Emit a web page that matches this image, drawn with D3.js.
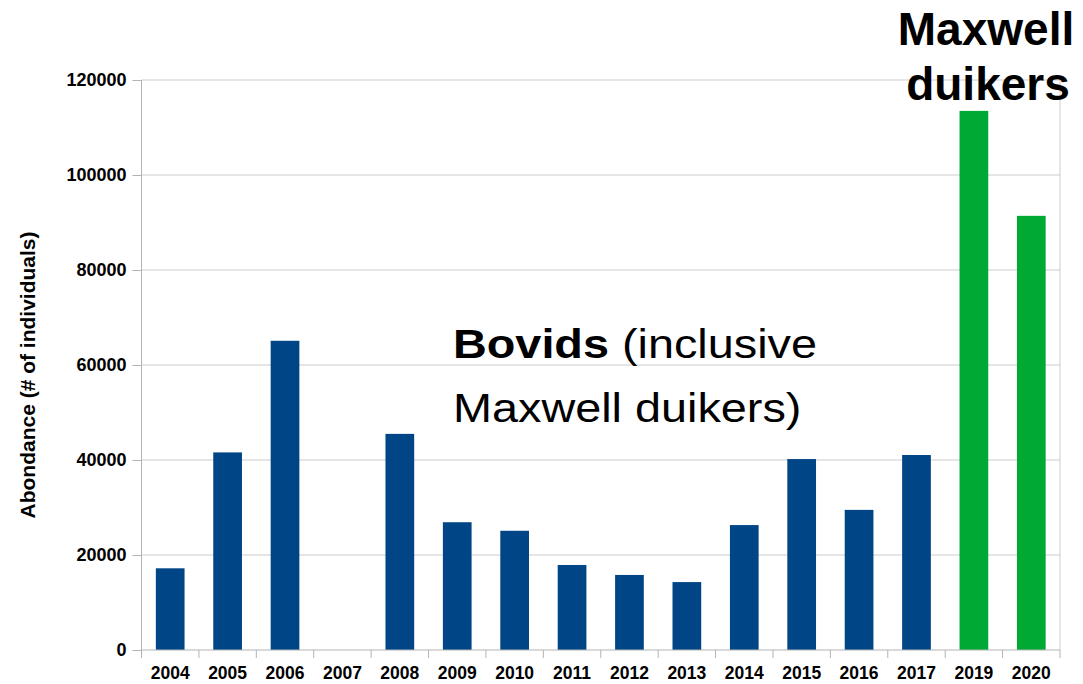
<!DOCTYPE html>
<html><head><meta charset="utf-8">
<script src="https://cdn.jsdelivr.net/npm/d3@7"></script>
<style>
html,body{margin:0;padding:0;background:#fff;}
text{font-family:"Liberation Sans",Arial,sans-serif;}
</style></head>
<body>
<svg id="chart" width="1083" height="684"></svg>
<script>
const years = ["2004","2005","2006","2007","2008","2009","2010","2011","2012","2013","2014","2015","2016","2017","2019","2020"];
const abundance = [17200,41600,65100,null,45500,26900,25100,17900,15800,14300,26300,40200,29500,41050,113500,91400];
const group = ["bovid","bovid","bovid","bovid","bovid","bovid","bovid","bovid","bovid","bovid","bovid","bovid","bovid","bovid","duiker","duiker"];
const yTicks = [0,20000,40000,60000,80000,100000,120000];
const yTitle = "Abondance (# of individuals)";

(function(){
const svg = d3.select("#chart");
const pL = 141.5, pR = 1060, pT = 80, pB = 650;
const x = d3.scaleBand().domain(years).range([pL, pR]).paddingInner(0.5).paddingOuter(0.25);
const y = d3.scaleLinear().domain([0,120000]).range([pB, pT]);
const colors = {bovid:"#004586", duiker:"#00a933"};

// gridlines
svg.append("g").selectAll("line").data(yTicks.filter(d=>d>0)).join("line")
  .attr("x1", pL).attr("x2", pR)
  .attr("y1", d=>y(d)).attr("y2", d=>y(d))
  .attr("stroke", "#cccccc").attr("stroke-width", 1);
// right border
svg.append("line").attr("x1", pR).attr("x2", pR).attr("y1", pT).attr("y2", pB)
  .attr("stroke", "#cccccc");

// bars
const data = years.map((yr,i)=>({yr, v:abundance[i], g:group[i]}));
svg.append("g").selectAll("rect").data(data.filter(d=>d.v!=null)).join("rect")
  .attr("x", d=>x(d.yr)).attr("width", x.bandwidth())
  .attr("y", d=>y(d.v)).attr("height", d=>y(0)-y(d.v))
  .attr("fill", d=>colors[d.g]);

// y axis
const yAxis = d3.axisLeft(y).tickValues(yTicks).tickSize(9).tickPadding(6).tickFormat(d3.format("d"));
const gy = svg.append("g").attr("transform", `translate(${pL},0)`).call(yAxis);
gy.select(".domain").attr("stroke","#b3b3b3").attr("d", `M0,${pT}V${pB}`);
gy.selectAll(".tick line").attr("stroke","#b3b3b3");
gy.selectAll(".tick text").attr("font-family","Liberation Sans, Arial, sans-serif")
  .attr("font-size",18).attr("font-weight","bold").attr("fill","#000");

// x axis with boundary ticks
const gx = svg.append("g").attr("transform", `translate(0,${pB})`);
gx.append("line").attr("x1", pL).attr("x2", pR).attr("y1",0).attr("y2",0).attr("stroke","#b3b3b3");
const step = x.step();
const bounds = years.map(d=>x(d) - step*0.25).concat([pR]);
gx.selectAll("line.tk").data(bounds).join("line").attr("class","tk")
  .attr("x1", d=>d).attr("x2", d=>d).attr("y1",0).attr("y2",8).attr("stroke","#b3b3b3");
gx.selectAll("text").data(years).join("text")
  .attr("x", d=>x(d)+x.bandwidth()/2).attr("y", 29)
  .attr("text-anchor","middle").attr("font-size",17.5).attr("font-weight","bold").attr("fill","#000")
  .text(d=>d);

// y title
svg.append("text").attr("transform","translate(35,375) rotate(-90)")
  .attr("text-anchor","middle").attr("font-size",21).attr("font-weight","bold").text(yTitle);

// annotations
const ann1 = svg.append("text").attr("transform","translate(453,358) scale(1.17,1)").attr("font-size",40);
ann1.append("tspan").attr("font-weight","bold").text("Bovids");
ann1.append("tspan").text(" (inclusive");
svg.append("text").attr("transform","translate(453,422) scale(1.17,1)").attr("font-size",40).text("Maxwell duikers)");

svg.append("text").attr("x",986).attr("y",45).attr("text-anchor","middle")
  .attr("font-size",46).attr("font-weight","bold").text("Maxwell");
svg.append("text").attr("x",988).attr("y",100).attr("text-anchor","middle")
  .attr("font-size",46).attr("font-weight","bold").text("duikers");
})();
</script>
</body></html>
